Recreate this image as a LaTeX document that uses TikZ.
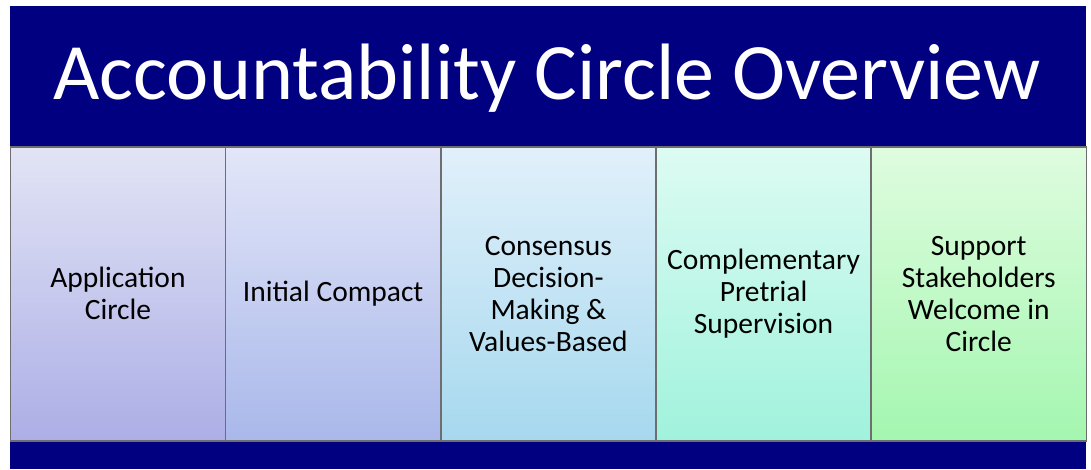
\documentclass[tikz,border=0pt]{standalone}
\usepackage{fontspec}
\setmainfont{Carlito}
\definecolor{navy}{RGB}{0,0,128}
\definecolor{edge}{RGB}{110,110,110}
\definecolor{aT}{RGB}{226,228,245}\definecolor{aB}{RGB}{172,174,230}
\definecolor{bT}{RGB}{227,230,248}\definecolor{bB}{RGB}{169,184,234}
\definecolor{cT}{RGB}{225,240,251}\definecolor{cB}{RGB}{166,216,238}
\definecolor{dT}{RGB}{221,251,243}\definecolor{dB}{RGB}{160,242,220}
\definecolor{eT}{RGB}{223,252,223}\definecolor{eB}{RGB}{164,246,176}
\tikzset{
  stepbox/.style={draw=edge, line width=1.7pt, minimum width=215.2pt, minimum height=294pt,
    inner sep=0pt, anchor=north west, align=center, text=black,
    font=\fontsize{29.5}{32}\selectfont},
  band/.style={fill=navy, draw=none, inner sep=0pt, anchor=north west}
}
\begin{document}
\begin{tikzpicture}[x=1pt,y=1pt]
\useasboundingbox (0,0) rectangle (1091,469);
\fill[white] (0,0) rectangle (1091,469);
\node[band, minimum width=1076pt, minimum height=140pt] (banner) at (9.5,463) {};
\node[text=white, anchor=base, inner sep=0pt, font=\fontsize{80}{96}\selectfont] (title) at (547,369) {Accountability Circle Overview};
\node[band, minimum width=1076pt, minimum height=30pt] (footer) at (9.5,30) {};
\node[stepbox, top color=aT, bottom color=aB] (b1) at (9.5,323) {Application\\Circle};
\node[stepbox, top color=bT, bottom color=bB] (b2) at (224.7,323) {Initial Compact};
\node[stepbox, top color=cT, bottom color=cB] (b3) at (439.9,323) {Consensus\\Decision-\\Making \&\\Values-Based};
\node[stepbox, top color=dT, bottom color=dB] (b4) at (655.1,323) {Complementary\\Pretrial\\Supervision};
\node[stepbox, top color=eT, bottom color=eB] (b5) at (870.3,323) {Support\\Stakeholders\\Welcome in\\Circle};
\end{tikzpicture}
\end{document}
